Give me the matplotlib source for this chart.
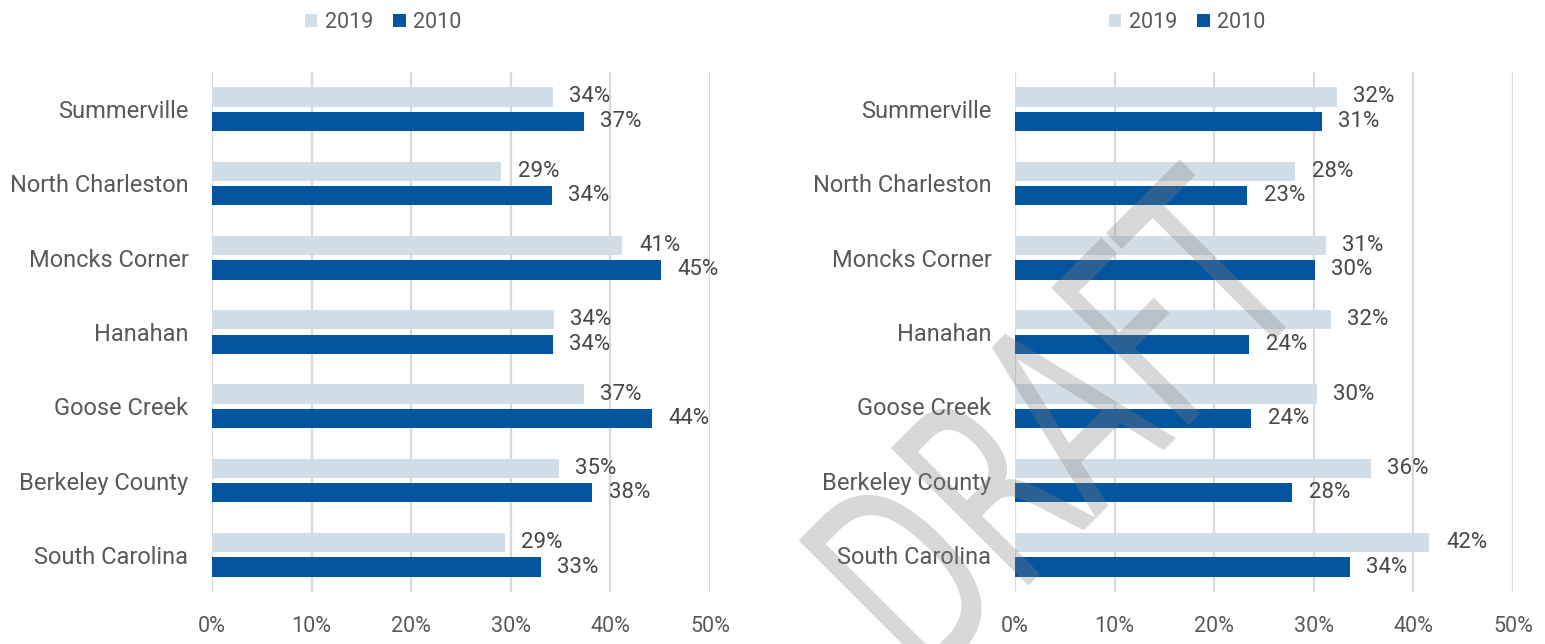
import matplotlib
matplotlib.use("Agg")
import matplotlib.pyplot as plt
from matplotlib.patches import Patch
from matplotlib.patheffects import AbstractPathEffect
from matplotlib.transforms import Affine2D
import numpy as np

categories = ["Summerville", "North Charleston", "Moncks Corner", "Hanahan",
              "Goose Creek", "Berkeley County", "South Carolina"]
series_names = ["2019", "2010"]

left_2019 = [34.2, 29.0, 41.2, 34.3, 37.3, 34.8, 29.4]
left_2010 = [37.3, 34.1, 45.1, 34.2, 44.2, 38.2, 33.0]
left_lbl_2019 = ["34%", "29%", "41%", "34%", "37%", "35%", "29%"]
left_lbl_2010 = ["37%", "34%", "45%", "34%", "44%", "38%", "33%"]

right_2019 = [32.3, 28.1, 31.2, 31.7, 30.3, 35.7, 41.6]
right_2010 = [30.8, 23.3, 30.1, 23.5, 23.7, 27.8, 33.6]
right_lbl_2019 = ["32%", "28%", "31%", "32%", "30%", "36%", "42%"]
right_lbl_2010 = ["31%", "23%", "30%", "24%", "24%", "28%", "34%"]

xticks = [0, 10, 20, 30, 40, 50]
xtick_labels = ["0%", "10%", "20%", "30%", "40%", "50%"]

watermark = "DRAFT"

LIGHT = "#D1DEE7"
DARK = "#04559F"
TEXT = "#595959"
LBL = "#474747"
GRID = "#D9D9D9"
FONT = "Roboto"

plt.rcParams['font.family'] = [FONT, 'DejaVu Sans']

W, H = 1545, 644
fig = plt.figure(figsize=(W / 100, H / 100), dpi=100)


class Condense(AbstractPathEffect):
    """Squeeze glyphs along the text direction, keeping their centre."""
    def __init__(self, sx):
        super().__init__()
        self.sx = sx

    def draw_path(self, renderer, gc, tpath, affine, rgbFace=None):
        ext = tpath.get_extents()
        cx = (ext.x0 + ext.x1) / 2
        cy = (ext.y0 + ext.y1) / 2
        pre = Affine2D().translate(-cx, -cy).scale(self.sx, 1.0).translate(cx, cy)
        renderer.draw_path(gc, tpath, pre + affine, rgbFace)


def draw(ax, v19, v10, l19, l10):
    y = np.arange(len(categories))
    off = 0.165
    h = 0.26
    ax.barh(y - off, v19, height=h, color=LIGHT, zorder=3)
    ax.barh(y + off, v10, height=h, color=DARK, zorder=3)
    for yi, v, t in zip(y - off, v19, l19):
        ax.annotate(t, (v, yi), xytext=(12, 0), textcoords="offset points",
                    va="center", ha="left", fontsize=16, color=LBL)
    for yi, v, t in zip(y + off, v10, l10):
        ax.annotate(t, (v, yi), xytext=(12, 0), textcoords="offset points",
                    va="center", ha="left", fontsize=16, color=LBL)
    ax.set_xlim(0, 50)
    ax.set_ylim(len(categories) - 0.5, -0.5)
    ax.set_yticks(y)
    ax.set_yticklabels(categories, fontsize=17, color=TEXT)
    ax.set_xticks(xticks)
    ax.set_xticklabels(xtick_labels, fontsize=15.5, color=TEXT)
    ax.tick_params(axis="both", length=0)
    ax.tick_params(axis="y", pad=17)
    ax.tick_params(axis="x", pad=17)
    for s in ax.spines.values():
        s.set_visible(False)
    ax.xaxis.grid(True, color=GRID, linewidth=1.6, zorder=0)
    ax.set_axisbelow(True)
    ax.set_facecolor("none")

axL = fig.add_axes([212 / W, 1 - 592 / H, 498 / W, 520 / H])
axR = fig.add_axes([1015 / W, 1 - 592 / H, 498 / W, 520 / H])
draw(axL, left_2019, left_2010, left_lbl_2019, left_lbl_2010)
draw(axR, right_2019, right_2010, right_lbl_2019, right_lbl_2010)

handles = [Patch(facecolor=LIGHT, label=series_names[0]),
           Patch(facecolor=DARK, label=series_names[1])]
for cx in (383 / W, 1187 / W):
    fig.legend(handles=handles, loc="center", bbox_to_anchor=(cx, 1 - 22.5 / H),
               ncol=2, frameon=False, handlelength=0.6,
               handleheight=0.6, handletextpad=0.35, columnspacing=0.9,
               labelcolor=TEXT, prop={"family": FONT, "size": 15.5})

# diagonal watermark (real text, condensed along its direction)
fig.text(1117 / W, 1 - 497 / H, watermark, rotation=45, rotation_mode="anchor",
         ha="center", va="baseline", fontsize=192, family="DejaVu Sans",
         color="#808080", alpha=0.3, zorder=10,
         path_effects=[Condense(0.635)])

fig.savefig("out.png", dpi=100)
